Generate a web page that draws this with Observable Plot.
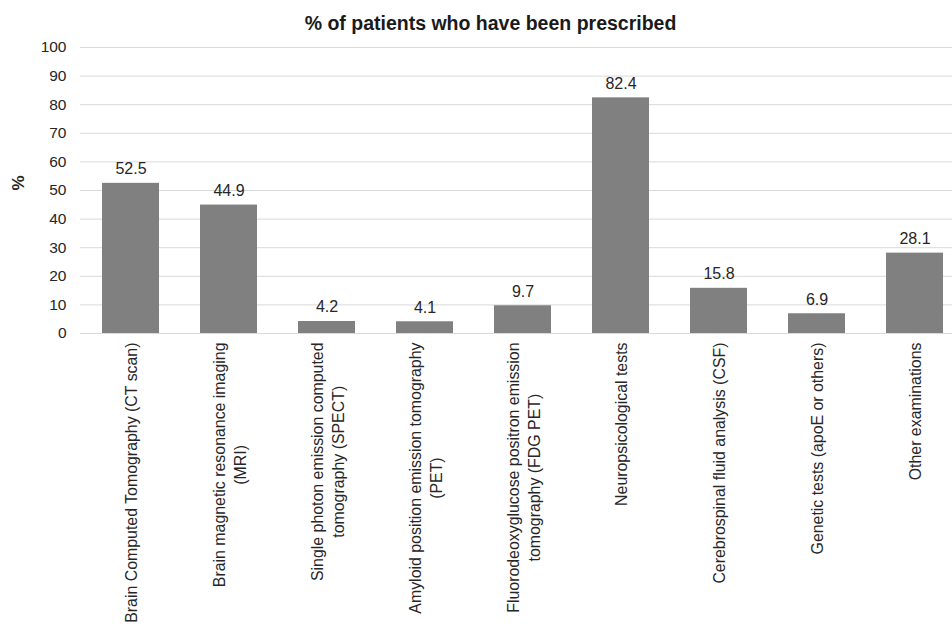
<!DOCTYPE html>
<html>
<head>
<meta charset="utf-8">
<script src="https://cdn.jsdelivr.net/npm/d3@7"></script>
<script src="https://cdn.jsdelivr.net/npm/@observablehq/plot@0.6"></script>
<style>
  html, body { margin: 0; padding: 0; background: #fff; }
  svg { display: block; }
</style>
</head>
<body>
<div id="chart"></div>
<script>
const title = "% of patients who have been prescribed";
const yLabel = "%";
const categories = [
  "Brain Computed Tomography (CT scan)",
  "Brain magnetic resonance imaging\n(MRI)",
  "Single photon emission computed\ntomography (SPECT)",
  "Amyloid position emission tomography\n(PET)",
  "Fluorodeoxyglucose positron emission\ntomography (FDG PET)",
  "Neuropsicological tests",
  "Cerebrospinal fluid analysis (CSF)",
  "Genetic tests (apoE or others)",
  "Other examinations"
];
const values = [52.5, 44.9, 4.2, 4.1, 9.7, 82.4, 15.8, 6.9, 28.1];
const yTicks = [0, 10, 20, 30, 40, 50, 60, 70, 80, 90, 100];

const data = categories.map((c, i) => ({category: c, value: values[i]}));

const chart = Plot.plot({
  width: 952,
  height: 627,
  marginTop: 47,
  marginBottom: 294,
  marginLeft: 80,
  marginRight: 0,
  style: {fontFamily: "'Liberation Sans', Arial, sans-serif", fontSize: "15px", color: "#404040", background: "#fff"},
  x: {domain: categories, range: [80.4, 964.6], paddingInner: 0.42, paddingOuter: 0.21, label: null},
  y: {domain: [0, 100], ticks: yTicks, label: null},
  marks: [
    Plot.gridY(yTicks, {stroke: "#d9d9d9", strokeOpacity: 1, strokeWidth: 1}),
    Plot.barY(data, {x: "category", y: "value", fill: "#808080"}),
    Plot.text(data, {x: "category", y: "value", text: d => d.value.toFixed(1), lineAnchor: "bottom", dy: -9, fill: "#262626", fontSize: 16}),
    Plot.axisY({ticks: yTicks, tickSize: 0, tickPadding: 14, fontSize: 15.5, fill: "#262626", label: null}),
    Plot.axisX({tickSize: 0, tickPadding: 9, tickRotate: -90, textAnchor: "end", lineAnchor: "middle", lineHeight: 1.27, fontSize: 15.9, fill: "#262626", label: null}),
    Plot.text([yLabel], {frameAnchor: "left", dx: -62, rotate: -90, fontWeight: "bold", fontSize: 17, fill: "#262626"}),
    Plot.text([title], {frameAnchor: "top", lineAnchor: "middle", dx: -26, dy: -24, fontWeight: "bold", fontSize: 19.5, fill: "#1a1a1a"})
  ]
});

document.getElementById("chart").append(chart);

// center multi-line x tick labels on each other (keep top end aligned)
chart.querySelectorAll('[aria-label="x-axis tick label"] text').forEach(t => {
  const spans = t.querySelectorAll("tspan");
  if (spans.length < 2) return;
  let w = 0;
  spans.forEach(s => { w = Math.max(w, s.getComputedTextLength()); });
  t.setAttribute("text-anchor", "middle");
  spans.forEach(s => s.setAttribute("x", -w / 2));
});
</script>
</body>
</html>
